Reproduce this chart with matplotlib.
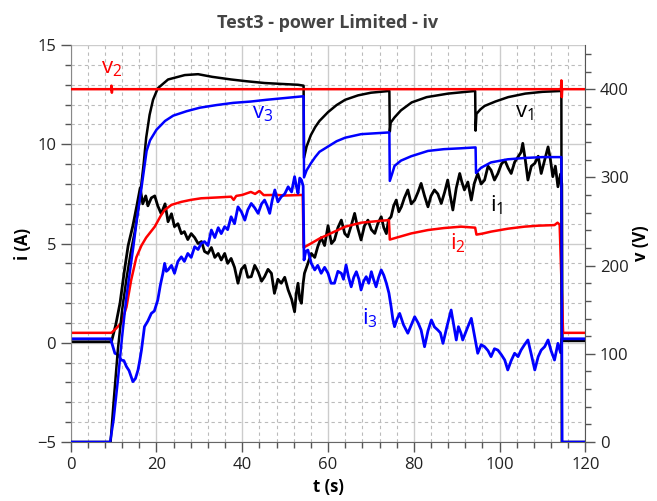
import matplotlib
matplotlib.use("Agg")
import matplotlib.pyplot as plt
from matplotlib.ticker import MultipleLocator

plt.rcParams['font.family'] = ['Open Sans', 'DejaVu Sans']
plt.rcParams['mathtext.default'] = 'regular'

# ---- data (t in s, i in A, v in V) ----
v1_t = [0, 9.3, 10, 11, 12, 13, 14, 15, 16, 17, 17.6, 18.4, 19.2, 20.3, 22.7, 26.6, 29.7,
        33, 37.4, 41, 45.2, 49, 53, 54.3, 54.4, 55, 56, 57, 58, 59, 60, 62, 64, 67, 70,
        74.3, 74.4, 74.6, 75.5, 77, 79.5, 83, 88, 94.3, 94.4, 94.6, 95.5, 96.5, 99, 102,
        106, 110, 114.4, 114.5, 120]
v1 = [0, 0, 45, 105, 150, 185, 215, 240, 272, 315, 345, 371, 388, 401, 411, 416, 417,
      414, 411, 409, 407, 406, 405, 404, 322, 335, 348, 357, 364, 369, 374, 382, 388, 393, 396,
      398, 352, 362, 368, 376, 385, 391, 395, 398, 353, 372, 377, 381, 386, 391,
      395, 397, 398, 0, 0]

v2_t = [0, 9.4, 9.5, 9.6, 9.7, 114.3, 114.4, 114.5, 114.6, 120]
v2 = [400, 400, 404, 396, 400, 400, 410, 391, 400, 400]

v3_t = [0, 9.2, 10, 11, 12, 13, 14, 14.6, 15.5, 16.5, 17.7, 18.5, 20, 22, 23.9, 27, 30.1,
        34, 37.9, 42, 45.7, 50, 54.3, 54.4, 55, 56, 57, 58, 60, 62, 64, 67.7, 71, 74.3,
        74.4, 75, 75.5, 77, 79.4, 83.3, 87, 91, 94.4, 94.5, 95.7, 98, 101.9, 105.8, 110,
        114.4, 114.6, 120]
v3 = [0, 0, 25, 70, 120, 165, 200, 221, 255, 288, 330, 342, 354, 364, 370, 375, 379,
      382, 384.5, 386, 388, 390, 392, 300, 308, 316, 323, 329, 335, 341, 345, 349, 350, 351,
      296, 305, 313, 319, 324, 330, 332, 333, 334, 305, 311, 317, 320.5, 322, 323,
      323, 0, 0]

i1_t = [0, 9.5, 10.5, 11.5, 12.5, 13.4, 14.5, 15.5, 16.2, 16.8, 17.5, 18, 18.8, 19.6,
        20.3, 21.1, 22, 22.7, 23.5, 24.2, 25, 25.8, 26.5, 27.3, 28.1, 28.9, 29.7, 30.5,
        31.2, 32, 32.8, 33.6, 34.4, 35.1, 35.9, 36.6, 37.4, 38.2, 39, 39.8, 40.6, 41.3,
        42.1, 42.9, 43.7, 44.5, 45.2, 46, 46.8, 47.5, 48.3, 49.1, 49.9, 50.7, 51.5, 52.2,
        52.6, 53, 53.4, 53.8, 54.2, 54.5, 55.3, 56.1, 56.9, 57.6, 58.4, 59.2, 60, 60.8,
        61.5, 62.3, 63.1, 63.9, 64.6, 65.4, 66.2, 66.9, 67.7, 68.5, 69.3, 70.1, 70.9,
        71.6, 72.4, 73, 73.6, 74.1, 74.7, 75.3, 75.9, 76.5, 77.1, 77.8, 78.6, 79.4, 80.2,
        81, 81.7, 82.5, 83.3, 84, 84.8, 85.6, 86.4, 87.2, 87.9, 88.5, 89.1, 89.9, 90.7,
        91.2, 91.8, 92.6, 93.4, 94.1, 94.9, 95.7, 96.5, 97.3, 98, 98.8, 99.6, 100.4,
        101.2, 102, 102.7, 103.5, 104.3, 105, 105.4, 106, 106.6, 107.4, 108.2, 109,
        109.7, 110.5, 111.3, 111.8, 112.4, 113, 113.6, 114.2, 114.5, 114.6, 120]
i1 = [0.05, 0.05, 0.9, 2.0, 3.6, 4.9, 5.9, 7.0, 7.8, 7.0, 7.4, 6.9, 7.3, 7.4,
      6.9, 6.5, 7.0, 6.1, 6.5, 5.85, 6.0, 5.5, 5.6, 5.2, 5.5, 5.3, 5.0, 5.1,
      4.6, 4.5, 4.8, 4.3, 4.5, 4.17, 4.5, 4.0, 4.25, 3.8, 3.0, 3.7, 3.9, 3.3,
      3.33, 3.9, 3.58, 3.1, 3.33, 3.7, 3.5, 2.49, 3.2, 3.0, 3.3, 2.66, 2.2, 1.56,
      2.5, 3.0, 2.2, 1.99, 3.0, 3.5, 4.0, 4.5, 4.3, 4.84, 5.3, 4.9, 5.9, 5.0,
      5.18, 5.8, 6.18, 5.5, 5.34, 5.9, 6.52, 5.8, 5.18, 5.9, 6.18, 5.7, 5.51,
      6.0, 6.35, 5.8, 5.5, 6.2, 6.35, 6.9, 7.19, 6.6, 6.85, 7.3, 7.7, 7.0, 7.19,
      7.6, 8.03, 7.4, 6.85, 7.4, 7.7, 7.5, 7.02, 7.6, 8.2, 7.4, 6.69, 7.8, 8.53,
      8.1, 7.7, 8.1, 7.19, 8.03, 8.53, 8.0, 8.2, 8.9, 8.7, 8.2, 8.53, 9.0,
      9.2, 8.8, 8.53, 9.1, 9.37, 9.6, 10.05, 9.2, 8.2, 8.9, 9.04, 9.4,
      8.53, 9.2, 9.87, 9.3, 8.37, 8.9, 7.86, 8.5, 8.0, 0.1, 0.1]

i2_t = [0, 9.5, 10.5, 11.8, 13, 14.1, 15.3, 16.5, 17.6, 19.6, 21, 21.9, 23.5, 25.8, 28,
        30.4, 34, 37.4, 38, 38.6, 40, 42, 43, 44, 45, 48, 50, 53, 54.1, 54.3, 56, 58, 60,
        62, 64, 67.7, 71, 74.2, 74.4, 76, 79.4, 83.3, 87, 91, 94.3, 94.6, 96, 98, 102,
        105.8, 109, 112.8, 113.5, 114, 114.8, 120]
i2 = [0.5, 0.5, 0.7, 1.0, 1.8, 3.16, 4.3, 4.9, 5.3, 5.85, 6.4, 6.69, 6.95, 7.1, 7.2,
      7.28, 7.32, 7.36, 7.2, 7.4, 7.45, 7.6, 7.5, 7.65, 7.44, 7.45, 7.42, 7.44, 7.45, 4.8,
      5.0, 5.25, 5.45, 5.65, 5.85, 6.05, 6.12, 6.18, 5.2, 5.3, 5.51, 5.68, 5.78, 5.85,
      5.8, 5.45, 5.5, 5.6, 5.75, 5.85, 5.9, 5.93, 6.05, 5.95, 0.5, 0.5]

i3_t = [0, 9.3, 10.3, 11, 11.8, 12.4, 13, 13.6, 14.1, 14.5, 15.1, 15.7, 16.1, 16.5, 17.2,
        18, 18.8, 19.5, 20.3, 20.9, 21.5, 21.9, 22.3, 22.7, 23.5, 24.2, 25, 25.8, 26.5,
        27.3, 28.1, 28.9, 29.7, 30.4, 31.2, 32, 32.8, 33.6, 34.4, 35.1, 35.9, 36.6, 37.4,
        38.2, 39, 39.8, 40.6, 41.3, 42.1, 42.9, 43.7, 44.5, 45.2, 45.8, 46.4, 47, 47.6,
        48.3, 49.1, 49.9, 50.7, 51.5, 52.2, 52.6, 53, 53.4, 53.8, 54.2, 54.4, 54.8, 55.3,
        56.1, 56.9, 57.6, 58.4, 59.2, 60, 60.7, 61.5, 62.3, 63.1, 63.6, 64.2, 64.8, 65.4,
        66, 66.6, 67.2, 67.7, 68.3, 68.9, 69.5, 70.1, 70.6, 71.2, 71.8, 72.4, 73, 73.6,
        74.2, 74.7, 75.1, 75.5, 76.1, 76.7, 77.6, 78.6, 79.4, 80.2, 81, 81.7, 82.5, 83.3,
        84.1, 84.8, 85.6, 86.2, 86.8, 87.7, 88.7, 89.3, 89.9, 90.4, 91, 91.4, 92.4, 93.4,
        94.2, 94.9, 95.7, 96.5, 97.3, 98, 98.8, 99.6, 100.4, 101.2, 101.9, 102.7, 103.5,
        104.3, 105, 105.8, 106.6, 107.4, 108.2, 109, 109.7, 110.5, 111.3, 112, 112.8,
        113.6, 114.2, 114.5, 120]
i3 = [0.2, 0.2, -0.53, -0.6, -0.87, -0.9, -1.2, -1.4, -1.71, -1.96, -1.8, -1.37, -0.9,
      -0.37, 0.81, 1.1, 1.48, 1.6, 2.15, 2.9, 3.5, 4.0, 3.6, 3.67, 3.9, 3.5, 4.1, 4.33,
      4.1, 4.5, 4.3, 4.84, 4.7, 5.0, 5.1, 4.9, 5.68, 5.3, 5.8, 5.5, 5.85, 5.7, 6.35,
      6.0, 6.85, 6.6, 6.18, 6.7, 7.02, 6.8, 6.52, 7.0, 7.19, 6.9, 6.52, 7.2, 7.7,
      7.1, 7.36, 7.5, 7.86, 7.6, 8.37, 7.9, 7.53, 8.3, 8.2, 7.9, 4.17, 4.6, 4.67,
      4.0, 3.67, 3.9, 3.5, 3.8, 3.5, 3.0, 3.0, 3.6, 3.5, 3.2, 3.92, 3.3, 2.82,
      3.3, 3.58, 3.2, 2.66, 3.1, 3.33, 3.0, 3.58, 3.2, 2.82, 3.3, 3.67, 3.4, 3.0,
      2.5, 1.82, 1.2, 0.81, 1.2, 1.48, 0.9, 0.48, 0.9, 1.31, 1.0, 0.64, -0.2, 0.6,
      1.15, 0.8, 0.64, 0.5, -0.03, 0.8, 1.65, 0.9, 0.14, 0.81, 0.48, 0.14, 0.7, 1.23,
      0.3, -0.53, -0.1, -0.2, -0.4, -0.7, -0.3, -0.37, -0.6, -0.87, -1.37, -0.9, -0.53,
      -0.7, -0.37, -0.1, 0.14, -0.6, -1.37, -0.7, -0.37, -0.2, 0.14, -0.4, -0.87,
      -0.03, -0.5, 0.2, 0.2]

fig = plt.figure(figsize=(6.57, 5.01), dpi=100)
ax = fig.add_axes([0.1076, 0.1178, 0.7834, 0.7922])
ax2 = ax.twinx()

lw = 1.8
ax.plot(i1_t, i1, color='black', lw=2.0)
ax.plot(i2_t, i2, color='red', lw=lw)
ax.plot(i3_t, i3, color='blue', lw=2.0)
ax2.plot(v1_t, v1, color='black', lw=lw)
ax2.plot(v3_t, v3, color='blue', lw=lw)
ax2.plot(v2_t, v2, color='red', lw=lw)

ax.set_xlim(0, 120)
ax.set_ylim(-5, 15)
ax2.set_ylim(0, 450)

ax.xaxis.set_major_locator(MultipleLocator(20))
ax.xaxis.set_minor_locator(MultipleLocator(4))
ax.yaxis.set_major_locator(MultipleLocator(5))
ax.yaxis.set_minor_locator(MultipleLocator(1))
ax2.yaxis.set_major_locator(MultipleLocator(100))
ax2.yaxis.set_minor_locator(MultipleLocator(20))

ax.grid(which='major', color='#cccccc', lw=1.0, ls='-')
ax.grid(which='minor', color='#bbbbbb', lw=0.8, ls=(0, (3, 3)))
ax.set_axisbelow(True)

for a in (ax, ax2):
    a.spines['top'].set_visible(False)
    a.tick_params(which='major', direction='out', length=7, width=1, color='#555555',
                  labelsize=12, labelcolor='#222222')
    a.tick_params(which='minor', direction='out', length=4, width=1, color='#555555')
ax.spines['left'].set_color('#888888')
ax.spines['bottom'].set_color('#666666')
ax.spines['right'].set_visible(False)
ax2.spines['left'].set_visible(False)
ax2.spines['bottom'].set_visible(False)
ax2.spines['right'].set_color('#555555')

ax.set_title('Test3 - power Limited - iv', fontsize=13, fontweight='bold', color='#444444', pad=12)
ax.set_xlabel('t (s)', fontsize=12, fontweight='bold', labelpad=4)
ax.set_ylabel('i (A)', fontsize=12, fontweight='bold', labelpad=4)
ax2.set_ylabel('v (V)', fontsize=12, fontweight='bold', rotation=90, labelpad=2)

# trace labels (in current-axis coordinates)
ax.text(9.6, 13.84, 'v$_2$', color='red', fontsize=16, ha='center', va='center')
ax.text(44.8, 11.57, 'v$_3$', color='blue', fontsize=16, ha='center', va='center')
ax.text(105.9, 11.62, 'v$_1$', color='black', fontsize=16, ha='center', va='center')
ax.text(99.4, 6.94, 'i$_1$', color='black', fontsize=16, ha='center', va='center')
ax.text(90.3, 5.03, 'i$_2$', color='red', fontsize=16, ha='center', va='center')
ax.text(69.8, 1.25, 'i$_3$', color='blue', fontsize=16, ha='center', va='center')

fig.savefig('out.png', dpi=100)
